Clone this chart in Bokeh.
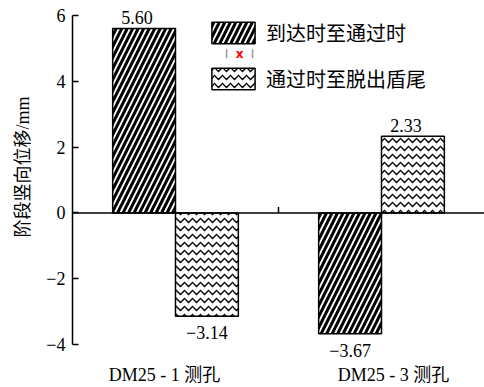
from bokeh.plotting import figure
from bokeh.models import (ColumnDataSource, FactorRange, Range1d, FixedTicker,
                          Span, Legend, LegendItem)
from bokeh.transform import dodge
from bokeh.core.properties import value
from bokeh.embed import file_html
from bokeh.resources import INLINE

# Stage vertical displacement (mm) at two monitoring holes
holes = ["DM25 - 1 测孔", "DM25 - 3 测孔"]
series_names = ["到达时至通过时", "通过时至脱出盾尾"]
arrive_to_pass = [5.60, -3.67]
pass_to_tail = [-3.14, 2.33]
y_ticks = [-4, -2, 0, 2, 4, 6]
y_label = "阶段竖向位移/mm"

SERIF = "Liberation Serif, Noto Sans CJK SC"
CJK = "Noto Sans CJK SC"
BAR_W = 0.305

p = figure(width=484, height=387, output_backend="svg", toolbar_location=None,
           x_range=FactorRange(*holes, range_padding=0),
           y_range=Range1d(-5.3, 6.45), x_axis_location=None,
           min_border_left=72, min_border_right=0, min_border_top=0,
           min_border_bottom=0)
p.outline_line_color = None
p.grid.visible = False
p.background_fill_color = "white"


def fmt(v):
    return f"{v:.2f}".replace("-", "\u2212")


def make_source(vals):
    return ColumnDataSource(dict(
        hole=holes, val=vals,
        label=[fmt(v) for v in vals],
        base=["bottom" if v > 0 else "top" for v in vals],
        yoff=[-4 if v > 0 else 10 for v in vals],
        xoff=[-7 if v > 0 else 0 for v in vals],
    ))


src1 = make_source(arrive_to_pass)
src2 = make_source(pass_to_tail)

diag = dict(fill_color="white", hatch_pattern="/", hatch_color="black",
            hatch_weight=3, hatch_scale=11)
wave = dict(fill_color="white", hatch_pattern="v", hatch_color="black",
            hatch_weight=1.3, hatch_scale=8)

r1 = p.vbar(x=dodge("hole", -BAR_W / 2, range=p.x_range), top="val", bottom=0,
            width=BAR_W, source=src1, line_color="black", line_width=1.5,
            **diag)
r2 = p.vbar(x=dodge("hole", BAR_W / 2, range=p.x_range), top="val", bottom=0,
            width=BAR_W, source=src2, line_color="black", line_width=1.5,
            **wave)

for src, off in ((src1, -BAR_W / 2), (src2, BAR_W / 2)):
    p.text(x=dodge("hole", off, range=p.x_range), y="val", text="label",
           source=src, text_align="center", text_baseline="base",
           y_offset="yoff", x_offset="xoff",
           text_font=value(SERIF), text_font_size="18px", text_color="black")

# zero line with a tick between the two groups
p.add_layout(Span(location=0, dimension="width", line_color="black",
                  line_width=1.5))
p.ray(x=[1], y=[0], length=6, length_units="screen", angle=1.5708,
      line_color="black", line_width=1.5)

# group names under the axis
name_src = ColumnDataSource(dict(hole=holes, y=[y_ticks[0]] * len(holes),
                                 xoff=[-11, 12]))
p.text(x=dodge("hole", 0, range=p.x_range), y="y", text="hole",
       source=name_src, x_offset="xoff", y_offset=30, text_align="center",
       text_baseline="middle", text_font=value(SERIF),
       text_font_size="18px", text_color="black")

# small error-bar marker between the legend entries
p.segment(x0=[0.748, 0.874], y0=[4.97, 4.97], x1=[0.748, 0.874],
          y1=[4.70, 4.70], line_color="#999999", line_width=1.5)
p.text(x=[0.811], y=[4.84], text=["x"], text_color="red",
       text_font=value("DejaVu Sans"), text_font_style="bold",
       text_font_size="12px", text_align="center", text_baseline="middle")

yax = p.yaxis[0]
yax.bounds = (y_ticks[0], y_ticks[-1])
yax.ticker = FixedTicker(ticks=y_ticks)
yax.major_label_overrides = {t: str(t).replace("-", "\u2212") for t in y_ticks}
yax.major_tick_in = 6
yax.major_tick_out = 0
yax.minor_tick_line_color = None
yax.axis_line_width = 1.5
yax.major_tick_line_width = 1.5
yax.axis_line_color = "black"
yax.major_tick_line_color = "black"
yax.major_label_text_font = SERIF
yax.major_label_text_font_size = "18px"
yax.major_label_text_color = "black"
yax.major_label_standoff = 7
yax.axis_label = "\u00a0" * 12 + y_label
yax.axis_label_text_font = SERIF
yax.axis_label_text_font_size = "18px"
yax.axis_label_text_font_style = "normal"
yax.axis_label_text_color = "black"
yax.axis_label_standoff = 10

legend = Legend(items=[LegendItem(label=series_names[0], renderers=[r1]),
                       LegendItem(label=series_names[1], renderers=[r2])],
                location=(134, 294), orientation="vertical",
                glyph_width=54, glyph_height=27, label_standoff=6,
                spacing=17, padding=0, margin=0,
                border_line_color=None, background_fill_alpha=0,
                label_text_font=CJK, label_text_font_size="20px",
                label_text_color="black")
p.add_layout(legend)

open("out.html", "w").write(file_html(p, INLINE))
